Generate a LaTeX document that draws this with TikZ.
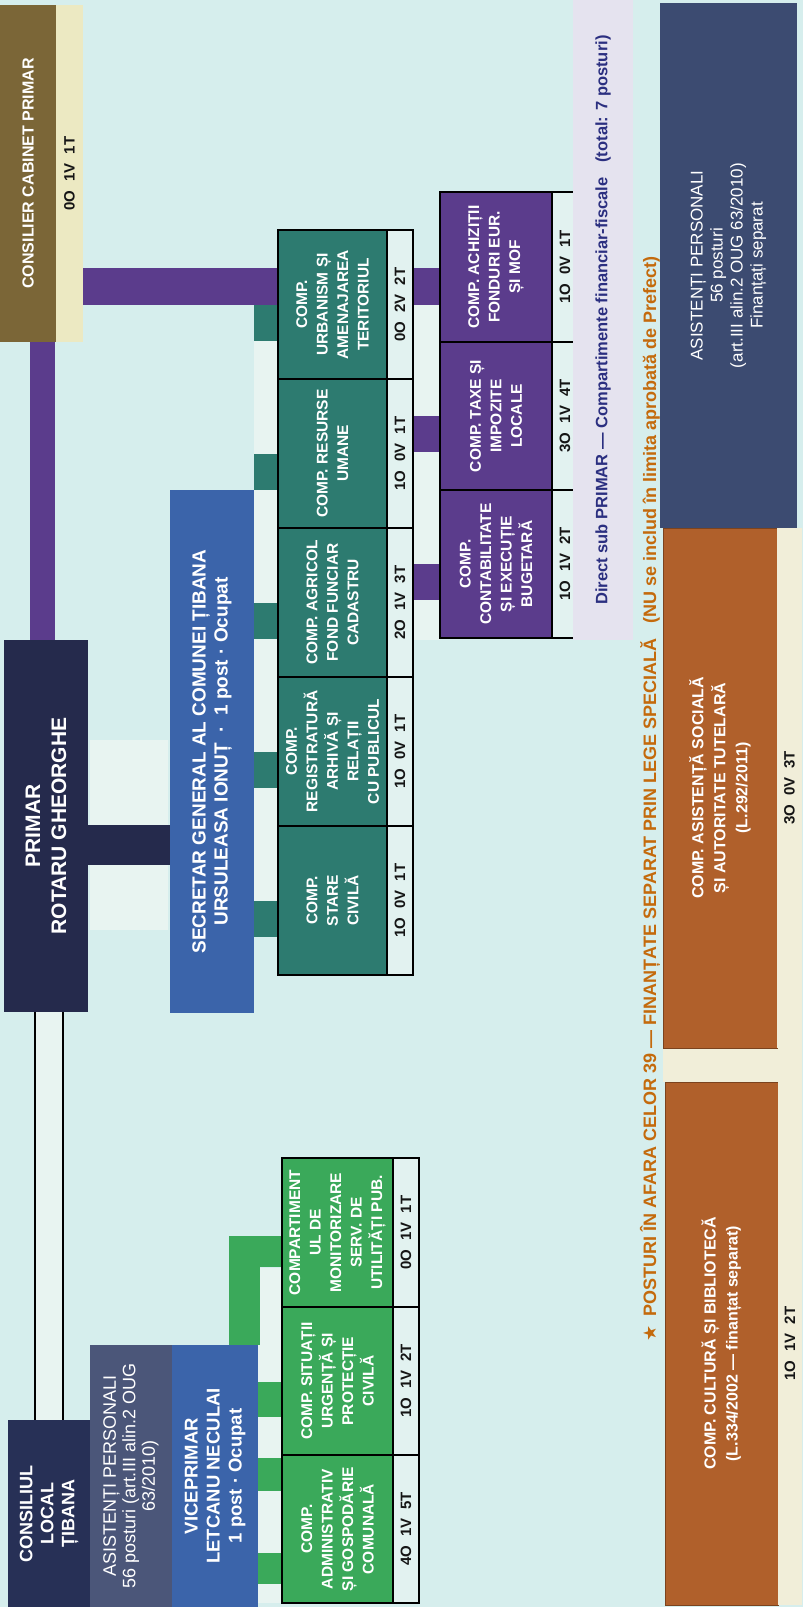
\documentclass[tikz,border=0pt]{standalone}
\usepackage{fontspec}
\setmainfont{Liberation Sans}
\newfontfamily\symfont{DejaVu Sans}
\usetikzlibrary{calc}
\pgfdeclarelayer{back}
\pgfdeclarelayer{conn}
\pgfsetlayers{back,conn,main}
\definecolor{bgc}{HTML}{D6EEED}
\definecolor{busc}{HTML}{E8F4F1}
\definecolor{olivec}{HTML}{7B6637}
\definecolor{creamc}{HTML}{ECE9C2}
\definecolor{purc}{HTML}{5B3C8C}
\definecolor{tealc}{HTML}{2D7B70}
\definecolor{stripc}{HTML}{E2F2F0}
\definecolor{navyc}{HTML}{252A4C}
\definecolor{consc}{HTML}{273056}
\definecolor{bluec}{HTML}{3B64AA}
\definecolor{asc}{HTML}{4B5679}
\definecolor{greenc}{HTML}{3AA95A}
\definecolor{bignavy}{HTML}{3C4B71}
\definecolor{brownc}{HTML}{B0602B}
\definecolor{bstrip}{HTML}{F1EED9}
\definecolor{lavc}{HTML}{E5E3EF}
\definecolor{orangec}{HTML}{C46A0C}
\definecolor{dkblue}{HTML}{2B2F80}
\definecolor{txtd}{HTML}{151515}
\newcommand{\ngap}{\hspace{0.6em}}
\tikzset{
  base/.style={rotate=90, inner sep=0pt, outer sep=0pt, align=center},
  sz/.style 2 args={minimum width=#1, minimum height=#2},
  wbold/.style={text=white, font=\bfseries\fontsize{15.5}{20.5}\selectfont},
  framed/.style={draw=black, line width=1.4},
  numtxt/.style={text=txtd, font=\bfseries\fontsize{15}{15}\selectfont},
  tealbox/.style={base, wbold, framed, fill=tealc, sz={149}{109}},
  tealstrip/.style={base, numtxt, framed, fill=stripc, sz={149}{26}},
  purbox/.style={base, wbold, framed, fill=purc, sz={149}{112}},
  purstrip/.style={base, numtxt, framed, fill=stripc, sz={149}{26}},
  grnbox/.style={base, wbold, framed, fill=greenc, sz={149}{111}},
  grnstrip/.style={base, numtxt, framed, fill=stripc, sz={149}{26}},
  bus/.style={draw=busc},
}
\begin{document}
\begin{tikzpicture}[x=1pt,y=-1pt]
\begin{pgfonlayer}{back}
\fill[bgc] (0,0) rectangle (803,1607);
\end{pgfonlayer}
\useasboundingbox (0,0) rectangle (803,1607);

% ---- Consilier cabinet
\node[base, sz={337}{56}, fill=olivec, text=white, font=\bfseries\fontsize{16}{20}\selectfont] (cab) at (28,173.5) {CONSILIER CABINET PRIMAR};
\node[base, sz={337}{27}, fill=creamc, numtxt] (cabS) at (69.5,173.5) {0O\ngap 1V\ngap 1T};

% ---- Primar
\node[base, sz={372}{84}, fill=navyc, text=white, font=\bfseries\fontsize{21}{26}\selectfont] (primar) at (46,826) {PRIMAR\\ROTARU GHEORGHE};

% ---- Secretar
\node[base, sz={523}{84}, fill=bluec, text=white, font=\bfseries\fontsize{19}{22}\selectfont] (sec) at (212,751.5) {SECRETAR GENERAL AL COMUNEI ȚIBANA\\URSULEASA IONUȚ \ · \ 1 post · Ocupat};

% ---- Consiliul local, asistenti, viceprimar
\node[base, sz={187}{82}, fill=consc, text=white, font=\bfseries\fontsize{18}{21}\selectfont] (cons) at (49,1513.5) {CONSILIUL\\LOCAL\\ȚIBANA};
\node[base, sz={262}{82}, fill=asc, text=white, font=\fontsize{18}{19.5}\selectfont] (asm) at (131,1476) {ASISTENȚI PERSONALI\\56 posturi (art.III alin.2 OUG\\63/2010)};
\node[base, sz={262}{86}, fill=bluec, text=white, font=\bfseries\fontsize{18.5}{22}\selectfont] (vice) at (215,1476) {VICEPRIMAR\\LETCANU NECULAI\\1 post · Ocupat};

% ---- Teal compartments
\node[tealbox] (t1) at (332.5,304.5) {COMP.\\URBANISM ȘI\\AMENAJAREA\\TERITORIUL};
\node[tealstrip] (t1s) at (400,304.5) {0O\ngap 2V\ngap 2T};
\node[tealbox] (t2) at (332.5,453.5) {COMP. RESURSE\\UMANE};
\node[tealstrip] (t2s) at (400,453.5) {1O\ngap 0V\ngap 1T};
\node[tealbox] (t3) at (332.5,602.5) {COMP. AGRICOL\\FOND FUNCIAR\\CADASTRU};
\node[tealstrip] (t3s) at (400,602.5) {2O\ngap 1V\ngap 3T};
\node[tealbox] (t4) at (332.5,751.5) {COMP.\\REGISTRATURĂ\\ARHIVĂ ȘI\\RELAȚII\\CU PUBLICUL};
\node[tealstrip] (t4s) at (400,751.5) {1O\ngap 0V\ngap 1T};
\node[tealbox] (t5) at (332.5,900.5) {COMP.\\STARE\\CIVILĂ};
\node[tealstrip] (t5s) at (400,900.5) {1O\ngap 0V\ngap 1T};

% ---- Purple compartments
\node[purbox, sz={150}{112}] (p1) at (496,267) {COMP. ACHIZIȚII\\FONDURI EUR.\\ȘI MOF};
\node[purstrip, sz={150}{26}] (p1s) at (565,267) {1O\ngap 0V\ngap 1T};
\node[purbox, sz={148}{112}] (p2) at (496,416) {COMP. TAXE ȘI\\IMPOZITE\\LOCALE};
\node[purstrip, sz={148}{26}] (p2s) at (565,416) {3O\ngap 1V\ngap 4T};
\node[purbox, sz={148}{112}] (p3) at (496,564) {COMP.\\CONTABILITATE\\ȘI EXECUȚIE\\BUGETARĂ};
\node[purstrip, sz={148}{26}] (p3s) at (565,564) {1O\ngap 1V\ngap 2T};

% ---- Green compartments
\node[grnbox] (g1) at (337.5,1232.5) {COMPARTIMENT\\UL DE\\MONITORIZARE\\SERV. DE\\UTILITĂȚI PUB.};
\node[grnstrip] (g1s) at (406,1232.5) {0O\ngap 1V\ngap 1T};
\node[grnbox, sz={148}{111}] (g2) at (337.5,1381) {COMP. SITUAȚII\\URGENȚĂ ȘI\\PROTECȚIE\\CIVILĂ};
\node[grnstrip, sz={148}{26}] (g2s) at (406,1381) {1O\ngap 1V\ngap 2T};
\node[grnbox, sz={148}{111}] (g3) at (337.5,1529) {COMP.\\ADMINISTRATIV\\ȘI GOSPODĂRIE\\COMUNALĂ};
\node[grnstrip, sz={148}{26}] (g3s) at (406,1529) {4O\ngap 1V\ngap 5T};

% ---- Lavender note
\node[base, sz={640}{60}, fill=lavc, text=dkblue, font=\bfseries\fontsize{16.5}{18}\selectfont] (lav) at (603,320) {Direct sub PRIMAR — Compartimente financiar-fiscale\hspace{0.9em}(total: 7 posturi)};

% ---- Heading of special posts
\node[base, text=orangec, font=\bfseries\fontsize{18}{20}\selectfont] (head) at (650,799) {{\symfont ★}\hspace{0.5em}POSTURI ÎN AFARA CELOR 39 — FINANȚATE SEPARAT PRIN LEGE SPECIALĂ\hspace{0.8em}(NU se includ în limita aprobată de Prefect)};

% ---- Big asistenti
\node[base, sz={525}{137}, fill=bignavy, text=white, font=\fontsize{17}{20}\selectfont] (asb) at (728.5,265.5) {ASISTENȚI PERSONALI\\56 posturi\\(art.III alin.2 OUG 63/2010)\\Finanțați separat};

% ---- Brown compartments
\fill[bstrip] (663,1048) rectangle (802,1082);
\node[base, sz={520}{114}, fill=brownc, draw=brownc!70!black, line width=0.8, text=white, font=\bfseries\fontsize{16}{22}\selectfont] (b1) at (720,788) {COMP. ASISTENȚĂ SOCIALĂ\\ȘI AUTORITATE TUTELARĂ\\(L.292/2011)};
\node[base, sz={520}{25}, fill=bstrip, numtxt] (b1s) at (789.5,788) {3O\ngap 0V\ngap 3T};
\node[base, sz={523}{113}, fill=brownc, draw=brownc!70!black, line width=0.8, text=white, font=\bfseries\fontsize{16}{22}\selectfont] (b2) at (721.5,1343.5) {COMP. CULTURĂ ȘI BIBLIOTECĂ\\(L.334/2002 — finanțat separat)};
\node[base, sz={523}{24}, fill=bstrip, numtxt] (b2s) at (790,1343.5) {1O\ngap 1V\ngap 2T};

% ---- Connectors
\begin{pgfonlayer}{conn}
\coordinate (pb1) at (129,740);
\coordinate (pb2) at (129,930);
\coordinate (tb1) at (266,268);
\coordinate (tb2) at (266,937);
\coordinate (qb1) at (426.5,268);
\coordinate (qb2) at (426.5,640);
\coordinate (qbx) at (413,268);
\coordinate (gb1) at (270,1268);
\coordinate (gb2) at (270,1603);
\draw[bus, line width=78] (pb1) -- (pb2);
\draw[bus, line width=24] (tb1) -- (tb2);
\draw[bus, line width=27] (qb1) -- (qb2);
\draw[bus, line width=24] (gb1) -- (gb2);
% council to mayor
\draw[double=busc, double distance=26, line width=1.6, draw=black] (cons.east) -- (cons.east |- primar.west);
% mayor to secretary
\draw[navyc, line width=40] ($(primar.south)+(0,19)$) -- ($(sec.north |- primar.south)+(0,19)$);
% secretary to teal compartments
\foreach \t in {t1,t2,t3,t4,t5}
  \draw[tealc, line width=36] ($(sec.south |- \t.center)+(0,18)$) -- ($(\t.north)+(0,18)$);
% mayor to cabinet
\draw[purc, line width=25] ($(primar.east)+(-3.5,0)$) -- ($(cab.west)+(14.5,0)$);
% cabinet line down to financial compartments
\draw[purc, line width=37] ($(cabS.south |- p1.center)+(0,19.5)$) -- ($(p1.north)+(0,19.5)$);
\foreach \p in {p2,p3}
  \draw[purc, line width=36] ($(qbx |- \p.center)+(0,18)$) -- ($(\p.north)+(0,18)$);
% viceprimar to green compartments
\draw[greenc, line width=31, line join=miter] ($(vice.east)+(29,0)$) |- ($(g1.north)+(0,18.5)$);
\draw[greenc, line width=35] ($(vice.south |- g2.center)+(0,18)$) -- ($(g2.north)+(0,18)$);
\draw[greenc, line width=33] ($(vice.south |- g3.center)+(0,-55)$) -- ($(g3.north)+(0,-55)$);
\draw[greenc, line width=31] ($(vice.south |- g3.center)+(0,39)$) -- ($(g3.north)+(0,39)$);
\end{pgfonlayer}
\end{tikzpicture}
\end{document}
